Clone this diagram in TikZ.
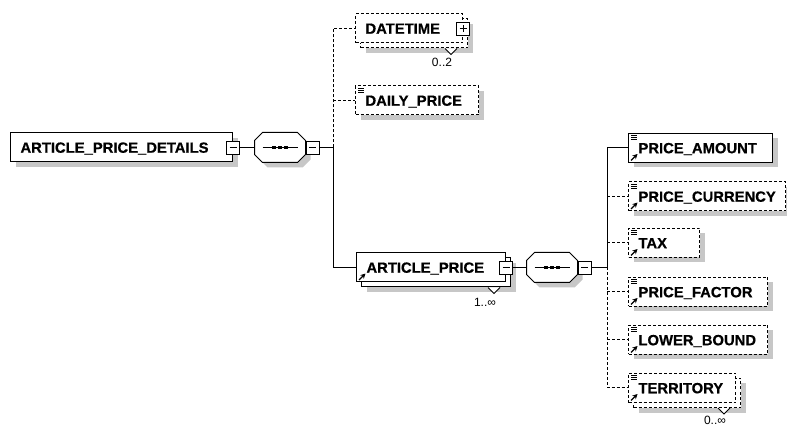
\documentclass[tikz,border=0pt]{standalone}
\usepackage{fontspec}
\setmainfont{Liberation Sans}[BoldFeatures={FakeBold=0.6}]
\usetikzlibrary{arrows.meta,shadows}
\hyphenpenalty=10000

\tikzset{
  boxshadow/.style={drop shadow={shadow xshift=#1,shadow yshift=-#1,fill=black!22,opacity=1}},
  elem/.style={draw,fill=white,boxshadow=5pt,anchor=west,
    font=\fontsize{14.8}{16}\selectfont\bfseries,align=left,text width=#1,
    text height=10.5pt,text depth=0pt,minimum height=29pt,inner xsep=10pt,inner ysep=0pt},
  multi/.style={boxshadow=10pt,copy shadow={shadow xshift=5pt,shadow yshift=-5pt}},
  opt/.style={dash pattern=on 3pt off 2pt},
  pmbox/.style={draw,fill=white,minimum size=13pt,inner sep=0pt,line width=0.8pt},
  minusbox/.style={pmbox,path picture={
    \draw ([xshift=3pt]path picture bounding box.west) -- ([xshift=-3pt]path picture bounding box.east);}},
  plusbox/.style={pmbox,path picture={
    \draw ([xshift=3pt]path picture bounding box.west) -- ([xshift=-3pt]path picture bounding box.east);
    \draw ([yshift=3pt]path picture bounding box.south) -- ([yshift=-3pt]path picture bounding box.north);}},
  seq/.style={minimum width=50pt,minimum height=29pt,inner sep=0pt},
  octagon/.style={insert path={([xshift=8pt]#1.north west) -- ([xshift=-8pt]#1.north east)
    -- ([yshift=-8pt]#1.north east) -- ([yshift=8pt]#1.south east) -- ([xshift=-8pt]#1.south east)
    -- ([xshift=8pt]#1.south west) -- ([yshift=8pt]#1.south west) -- ([yshift=-8pt]#1.north west) -- cycle}},
  mult/.style={font=\fontsize{12}{14}\selectfont,inner sep=0pt}
}
\newcommand\simpleicon[1]{\draw[line width=0.8pt] (#1.north west) ++(3,2.5) -- ++(6,0) ++(-6,2) -- ++(6,0) ++(-6,2) -- ++(6,0);}
\newcommand\refarrow[1]{\draw[-{Stealth[length=5pt,width=5pt]},line width=1.3pt] (#1.south west) ++(3,-2.5) -- ++(6.5,-6.5);}
\newcommand\notch[1]{\draw[fill=white] ([xshift=-12pt,yshift=-5pt]#1.south east) ++(-6,0) -- ++(6,6) -- ++(6,-6);}
\newcommand\seqbox[1]{%
  \fill[black!22,transform canvas={shift={(5pt,-5pt)}},octagon=#1];
  \draw[fill=white,octagon=#1];
  \draw ([xshift=8pt]#1.west) -- ([xshift=-8pt]#1.east);
  \foreach \d in {-6,0,6} \fill ([xshift=\d pt]#1.center) ++(-1.6,-1.6) rectangle ++(3.2,3.2);}

\begin{document}
\begin{tikzpicture}[x=1pt,y=-1pt,line width=1pt]
\useasboundingbox (0,0) rectangle (787,427);
% root and first sequence
\node[elem=202pt] (apd) at (10,147.5) {ARTICLE\_PRICE\_DETAILS};
\node[minusbox] (apdm) at (apd.east) {};
\node[seq] (seqa) at (280,147.5) {};
\seqbox{seqa}
\node[minusbox,anchor=west] (seqam) at (seqa.east) {};
\coordinate (busa) at (333,147.5);
\draw (apdm) -- (seqa);
\draw (seqam) -- (busa);

% middle column
\node[elem=87pt,multi,opt] (dt) at (355,28.5) {DATETIME};
\node[plusbox] (dtp) at (dt.east) {};
\notch{dt}
\node[mult] (dtn) at ([xshift=-21pt,yshift=-19pt]dt.south east) {0..2};
\node[elem=103pt,opt] (dp) at (355,100.5) {DAILY\_PRICE};
\simpleicon{dp}
\node[elem=129pt,multi] (ap) at (356,267.5) {ARTICLE\_PRICE};
\node[minusbox] (apm) at (ap.east) {};
\refarrow{ap}
\notch{ap}
\node[mult] (apn) at ([xshift=-21pt,yshift=-20pt]ap.south east) {1..∞};
\draw[opt] (busa) -- (busa |- dt.west) -- (dt.west);
\draw[opt] (busa |- dp.west) -- (dp.west);
\draw (busa) |- (ap.west);

% second sequence
\node[seq] (seqb) at (552,267.5) {};
\seqbox{seqb}
\node[minusbox,anchor=west] (seqbm) at (seqb.east) {};
\coordinate (busb) at (607,267.5);
\draw (apm) -- (seqb);
\draw (seqbm) -- (busb);

% right column
\node[elem=124pt] (pa) at (628,148) {PRICE\_AMOUNT};
\node[elem=137pt,opt] (pc) at (628,196.5) {PRICE\_CURRENCY};
\node[elem=51pt,opt] (tax) at (628,243) {TAX};
\node[elem=119pt,opt] (pf) at (628,292) {PRICE\_FACTOR};
\node[elem=119pt,opt] (lb) at (628,340) {LOWER\_BOUND};
\node[elem=87pt,multi,opt] (ter) at (628,388) {TERRITORY};
\notch{ter}
\node[mult] (tern) at ([xshift=-21pt,yshift=-17pt]ter.south east) {0..∞};
\foreach \n in {pa,pc,tax,pf,lb,ter} {\simpleicon{\n} \refarrow{\n}}
\draw (busb) |- (pa.west);
\draw[opt] (busb |- pc.west) -- (pc.west);
\draw[opt] (busb |- tax.west) -- (tax.west);
\draw[opt] (busb) |- (ter.west);
\draw[opt] (busb |- pf.west) -- (pf.west);
\draw[opt] (busb |- lb.west) -- (lb.west);
\end{tikzpicture}
\end{document}
